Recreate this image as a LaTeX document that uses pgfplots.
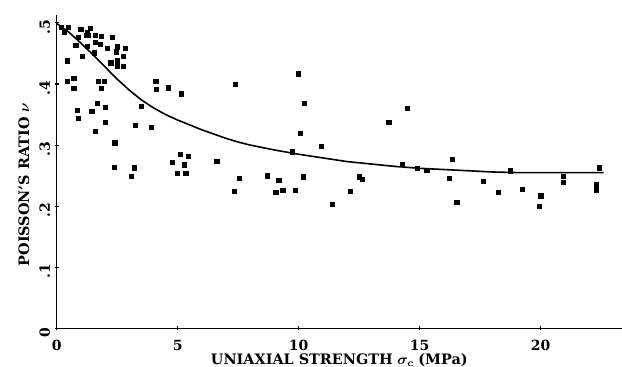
\documentclass[border=0pt]{standalone}
\usepackage{pgfplots}
\usepackage{bm}
\usepackage{fontspec}
\setmainfont{DejaVu Serif}
\pgfplotsset{compat=1.18}

% Poisson's ratio against uniaxial strength
\pgfplotstableread{
x y
0.18 0.493
0.30 0.485
0.48 0.493
1.00 0.490
1.40 0.491
0.90 0.477
1.21 0.480
1.31 0.480
1.26 0.484
1.58 0.480
1.84 0.478
2.29 0.476
0.79 0.464
1.25 0.462
1.58 0.468
1.81 0.465
2.08 0.459
2.49 0.461
2.84 0.459
1.56 0.451
2.45 0.453
1.06 0.446
2.24 0.435
2.51 0.438
2.51 0.430
2.76 0.445
2.76 0.429
0.43 0.438
0.44 0.405
0.71 0.410
0.71 0.393
1.73 0.404
1.97 0.404
1.84 0.393
0.86 0.357
0.88 0.344
1.45 0.355
1.68 0.368
2.01 0.362
1.58 0.323
2.01 0.337
2.40 0.304
2.37 0.264
3.07 0.249
3.20 0.263
3.26 0.333
3.49 0.364
3.90 0.329
4.10 0.405
4.12 0.392
4.60 0.394
5.14 0.384
4.77 0.272
5.10 0.285
5.43 0.282
5.27 0.268
4.98 0.254
5.33 0.254
6.61 0.273
7.38 0.399
7.54 0.246
7.33 0.225
8.70 0.250
9.18 0.243
9.05 0.223
9.34 0.226
9.85 0.226
9.75 0.289
10.18 0.248
9.99 0.417
10.22 0.368
10.07 0.319
10.92 0.298
11.38 0.203
12.12 0.225
12.51 0.248
12.62 0.244
13.72 0.337
14.48 0.360
14.28 0.269
14.91 0.262
15.29 0.259
16.36 0.277
16.21 0.246
16.53 0.206
17.62 0.241
18.25 0.223
18.73 0.258
19.25 0.228
20.00 0.217
19.93 0.200
20.93 0.249
20.93 0.239
22.29 0.236
22.31 0.227
22.42 0.263
}\measured

% fitted trend
\pgfplotstableread{
x y
0 0.499
0.5 0.485
1 0.467
1.5 0.448
2 0.428
2.5 0.408
3 0.390
3.5 0.374
4 0.361
4.5 0.350
5 0.341
5.5 0.333
6 0.325
6.5 0.318
7 0.311
7.5 0.305
8 0.300
9 0.292
10 0.285
11 0.279
12 0.273
13 0.269
14 0.265
15 0.262
16 0.260
17 0.258
18 0.256
19 0.255
20 0.255
21 0.255
22 0.255
22.6 0.255
}\trend

\begin{document}
\begin{tikzpicture}
\begin{axis}[
  width=424pt, height=235pt, scale only axis,
  xmin=0, xmax=23.36, ymin=0, ymax=0.513,
  axis x line*=bottom, axis y line*=left,
  axis line style={-, line width=1pt},
  xtick={0,5,10,15,20},
  ytick={0,0.1,0.2,0.3,0.4,0.5},
  xticklabels={\textbf{0},\textbf{5},\textbf{10},\textbf{15},\textbf{20}},
  yticklabels={\textbf{0},\textbf{.1},\textbf{.2},\textbf{.3},\textbf{.4},\textbf{.5}},
  tick align=center, major tick length=3pt,
  tick style={black, line width=0.8pt},
  xticklabel style={font=\bfseries\fontsize{10.5}{12}\selectfont, yshift=-4pt},
  yticklabel style={font=\bfseries\fontsize{10.5}{12}\selectfont, rotate=90, anchor=south, xshift=-3pt},
  xlabel={\textbf{UNIAXIAL STRENGTH} $\bm{\sigma_c}$ \textbf{(MPa)}},
  ylabel={\textbf{POISSON'S RATIO} $\bm{\nu}$},
  label style={font=\fontsize{10.8}{13}\selectfont},
  xlabel style={at={(axis cs:11.68,0)}, anchor=north, yshift=-15.5pt},
  ylabel style={at={(axis cs:-1.35,0.235)}, anchor=center},
  clip=false,
]
\addplot[only marks, mark=square*, mark size=1.6pt, black] table[x=x,y=y] {\measured};
\addplot[black, line width=1.2pt] table[x=x,y=y] {\trend};
\end{axis}
\pgfresetboundingbox
\path (-42.5pt,-29pt) rectangle (424pt,246.25pt);
\end{tikzpicture}
\end{document}
